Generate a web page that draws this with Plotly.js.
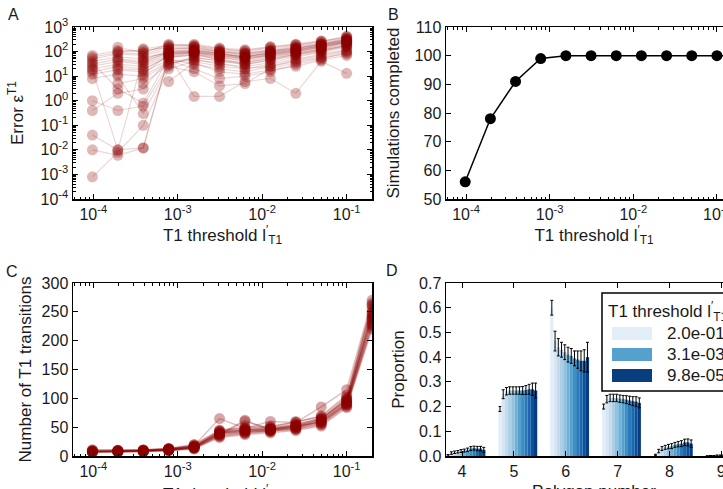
<!DOCTYPE html>
<html>
<head>
<meta charset="utf-8">
<script src="https://cdn.plot.ly/plotly-3.0.1.min.js"></script>
<style>
  html, body { margin: 0; padding: 0; overflow: hidden; background: #fff; }
  #fig { width: 760px; height: 515px; }
</style>
</head>
<body>
<div id="fig"></div>
<script>
// T1 threshold values, ascending (panels A, B, C)
const thresholds = [9.765625e-5, 1.953125e-4, 3.90625e-4, 7.8125e-4, 1.5625e-3, 3.125e-3,
                    6.25e-3, 1.25e-2, 2.5e-2, 5e-2, 0.1, 0.2];

// Panel A: error per simulation run (null = run did not complete)
const errorByRun = [
  [25, 40, 30, 80, 90, 60, 50, 70, 100, 150, 250],
  [40, 60, 50, 100, 120, 80, 60, 90, 120, 180, 300],
  [15, 25, 20, 60, 70, 50, 35, 50, 80, 120, 200],
  [60, 90, 80, 150, 160, 110, 90, 120, 160, 220, 350],
  [8, 12, 10, 40, 50, 30, 25, 35, 60, 90, 150],
  [1, 0.4, 0.6, 30, 60, 40, 30, 45, 70, 100, 180],
  [0.04, 0.01, 0.012, 60, 80, 60, 40, 60, 90, 130, 220],
  [0.01, 0.006, 0.012, 70, 100, 70, 50, 70, 100, 140, 240],
  [0.0008, 0.008, 0.1, 20, 40, 25, 20, 30, 50, 80, 120],
  [0.4, 2, 3, 50, 30, 20, 15, 25, 40, 60, 100],
  [20, 30, 25, 70, 1.5, 1.5, 6, 8, 2, 40, 13],
  [30, 50, 40, 90, 110, 90, 70, 100, 130, 200, 320],
  [50, 80, 70, 120, 140, 100, 80, 110, 150, 210, 280],
  [12, 18, 15, 45, 20, 8, 10, 15, 30, 50, 90],
  [35, 3, 0.8, 55, 75, 55, 45, 65, 85, 120, 170],
  [70, 110, 100, 170, 180, 130, 100, 140, 180, 250, 400],
  [18, 0.01, 60, 85, 95, 65, 55, 80, 110, 160, 260],
  [null, 20, 18, 65, 85, 45, 30, 45, 75, 110, 190],
  [null, 45, 35, 95, 100, 75, 65, 85, 110, 170, 270],
  [null, 100, 120, 140, 130, 95, 75, 100, 140, 190, 300],
  [null, 5, 8, 35, 45, 35, 20, 25, 45, 70, 110],
  [null, 150, 90, 200, 170, 120, 110, 150, 190, 260, 380],
  [null, 10, 0.3, 25, 15, 4, 5, 20, 35, 55, 80],
  [null, null, 45, 110, 120, 85, 60, 95, 125, 175, 260],
  [null, null, 12, 75, 90, 70, 55, 75, 100, 150, 230],
  [null, null, 130, 180, 200, 140, 120, 160, 200, 270, 420],
  [null, null, 5, 30, 55, 45, 35, 55, 75, 110, 160],
  [null, null, null, 90, 105, 80, 60, 85, 115, 165, 250],
  [null, null, null, 130, 150, 100, 85, 110, 140, 200, 330],
  [null, null, null, 6, 35, 15, 12, 18, 25, 45, 70]
];

// Panel B: simulations completed (out of 100)
const completed = [56, 78, 91, 99, 100, 100, 100, 100, 100, 100, 100, 100];

// Panel C: number of T1 transitions per run
const transitionsByRun = [
  [8, 8, 9, 11, 15, 38, 42, 45, 50, 60, 92, 240],
  [7, 8, 8, 10, 14, 35, 40, 43, 47, 56, 88, 230],
  [9, 9, 10, 12, 17, 42, 46, 48, 54, 65, 98, 255],
  [6, 7, 7, 9, 12, 32, 37, 40, 44, 52, 84, 220],
  [10, 10, 11, 13, 19, 45, 50, 52, 58, 70, 105, 265],
  [8, 9, 9, 11, 16, 40, 44, 46, 51, 62, 95, 245],
  [7, 7, 8, 10, 13, 36, 60, 47, 52, 58, 90, 235],
  [9, 8, 9, 12, 18, 65, 48, 60, 58, 85, 115, 270],
  [8, 8, 8, 11, 15, 39, 43, 44, 49, 61, 93, 250],
  [null, 9, 10, 12, 16, 41, 45, 47, 53, 64, 100, 260],
  [null, 7, 8, 10, 14, 37, 41, 44, 48, 57, 89, 228],
  [null, null, 9, 11, 16, 43, 47, 49, 55, 66, 97, 248],
  [11, 10, 10, 13, 20, 44, 49, 50, 60, 68, 102, 262],
  [7, 8, 8, 10, 14, 34, 39, 42, 46, 54, 86, 225],
  [null, null, null, 12, 17, 40, 45, 46, 52, 63, 96, 242],
  [8, 9, 9, 11, 15, 38, 62, 45, 50, 59, 91, 238]
];

// Panel D: polygon-number distribution, thresholds ordered 2.0e-01 -> 9.8e-05
const thresholdLabels = ['2.0e-01', '1.0e-01', '5.0e-02', '2.5e-02', '1.2e-02', '6.2e-03',
                         '3.1e-03', '1.6e-03', '7.8e-04', '3.9e-04', '2.0e-04', '9.8e-05'];
const polygonNumbers = [4, 5, 6, 7, 8, 9];
const poly4 = [0.003, 0.012, 0.015, 0.017, 0.02, 0.022, 0.025, 0.03, 0.032, 0.03, 0.03, 0.025];
const poly5 = [0.19, 0.25, 0.262, 0.265, 0.265, 0.265, 0.265, 0.265, 0.267, 0.27, 0.27, 0.265];
const poly6 = [0.60, 0.465, 0.44, 0.43, 0.42, 0.41, 0.405, 0.395, 0.39, 0.385, 0.385, 0.40];
const poly7 = [0.20, 0.23, 0.235, 0.235, 0.235, 0.232, 0.23, 0.228, 0.225, 0.222, 0.22, 0.215];
const poly8 = [0.004, 0.02, 0.03, 0.035, 0.038, 0.04, 0.045, 0.048, 0.05, 0.055, 0.055, 0.05];
const poly9 = [0.0, 0.001, 0.001, 0.002, 0.002, 0.002, 0.002, 0.003, 0.003, 0.003, 0.004, 0.004];
const err4 = [0.003, 0.005, 0.005, 0.005, 0.006, 0.006, 0.007, 0.008, 0.008, 0.009, 0.009, 0.01];
const err5 = [0.01, 0.018, 0.015, 0.015, 0.015, 0.015, 0.015, 0.016, 0.018, 0.02, 0.025, 0.03];
const err6 = [0.03, 0.04, 0.035, 0.03, 0.03, 0.03, 0.03, 0.03, 0.035, 0.04, 0.045, 0.06];
const err7 = [0.01, 0.015, 0.015, 0.015, 0.015, 0.015, 0.015, 0.016, 0.017, 0.018, 0.02, 0.02];
const err8 = [0.003, 0.007, 0.008, 0.008, 0.009, 0.01, 0.01, 0.011, 0.012, 0.013, 0.014, 0.015];
const err9 = [0.001, 0.001, 0.001, 0.002, 0.002, 0.002, 0.002, 0.002, 0.002, 0.002, 0.003, 0.003];

// Tick labels
const decadeX = [1e-4, 1e-3, 1e-2, 1e-1];
const decadeXText = ['10<sup>-4</sup>', '10<sup>-3</sup>', '10<sup>-2</sup>', '10<sup>-1</sup>'];
const decadeY = [1e-4, 1e-3, 1e-2, 1e-1, 1, 10, 100, 1000];
const decadeYText = ['10<sup>-4</sup>', '10<sup>-3</sup>', '10<sup>-2</sup>', '10<sup>-1</sup>',
                     '10<sup>0</sup>', '10<sup>1</sup>', '10<sup>2</sup>', '10<sup>3</sup>'];

// ---- styling ----
const W = 760, H = 515;
const FONT = 'Liberation Sans, Arial, Helvetica, sans-serif';
const TXT = '#1a1a1a';
const TICK_SIZE = 16, TITLE_SIZE = 17;
const RED_LINE_A = 'rgba(139,0,0,0.16)';
const RED_MARK_A = 'rgba(139,0,0,0.28)';
const RED_LINE_C = 'rgba(139,0,0,0.25)';
const RED_MARK_C = 'rgba(139,0,0,0.35)';
const blues = ['#e3eef8', '#d6e6f4', '#c5daee', '#abd0e6', '#91c3de', '#6fb0d7',
               '#56a0ce', '#3e8ec4', '#2a7ab9', '#1b66ac', '#09529d', '#083d7f'];

const px = v => v / W;
const py = v => 1 - v / H;

function logMinor(d0, d1) {
  const v = [];
  for (let d = d0; d <= d1; d++) for (let m = 2; m <= 9; m++) v.push(m * Math.pow(10, d));
  return v;
}

const axisBase = {
  showline: true, linecolor: '#000', linewidth: 1.5, mirror: 'ticks',
  ticks: 'inside', ticklen: 5, tickwidth: 1, tickcolor: '#000',
  showgrid: false, zeroline: false,
  tickfont: { family: FONT, size: TICK_SIZE, color: TXT }
};
const titleFont = { family: FONT, size: TITLE_SIZE, color: TXT };
const thresholdTitle = 'T1 threshold l<sup>′</sup><sub>T1</sub>';

function logX(domain, anchor, standoff) {
  return Object.assign({}, axisBase, {
    type: 'log', range: [-4.24, -0.70], domain: domain, anchor: anchor,
    tickmode: 'array', tickvals: decadeX, ticktext: decadeXText,
    minor: { tickmode: 'array', tickvals: logMinor(-5, 0), ticks: 'inside', ticklen: 2.5,
             tickwidth: 1, tickcolor: '#000', showgrid: false },
    title: { text: thresholdTitle, font: titleFont, standoff: standoff }
  });
}

const domLeft = [px(73), px(372)];
const domRight = [px(446), px(742)];
const domTop = [py(199), py(27)];
const domBottom = [py(456), py(283)];

const traces = [];

// Panel A
errorByRun.forEach(run => {
  traces.push({
    type: 'scatter', mode: 'lines+markers', xaxis: 'x', yaxis: 'y',
    x: thresholds.slice(0, run.length), y: run,
    line: { color: RED_LINE_A, width: 1.2 },
    marker: { color: RED_MARK_A, size: 11, line: { width: 0 } },
    showlegend: false, hoverinfo: 'skip'
  });
});

// Panel B
traces.push({
  type: 'scatter', mode: 'lines+markers', xaxis: 'x2', yaxis: 'y2',
  x: thresholds, y: completed,
  line: { color: '#000', width: 1.5 },
  marker: { color: '#000', size: 11 },
  showlegend: false, hoverinfo: 'skip'
});

// Panel C
transitionsByRun.forEach(run => {
  traces.push({
    type: 'scatter', mode: 'lines+markers', xaxis: 'x3', yaxis: 'y3',
    x: thresholds, y: run,
    line: { color: RED_LINE_C, width: 1.5 },
    marker: { color: RED_MARK_C, size: 11, line: { width: 0 } },
    showlegend: false, hoverinfo: 'skip'
  });
});

// Panel D: one bar series per threshold
const props = [poly4, poly5, poly6, poly7, poly8, poly9];
const errs = [err4, err5, err6, err7, err8, err9];
const barW = 0.0625;
thresholdLabels.forEach((lab, k) => {
  traces.push({
    type: 'bar', xaxis: 'x4', yaxis: 'y4', name: lab,
    x: polygonNumbers, y: props.map(p => p[k]),
    offset: -0.3 + k * barW, width: barW,
    marker: { color: blues[k], line: { width: 0 } },
    error_y: { type: 'data', array: errs.map(e => e[k]), color: '#000', thickness: 1, width: 1.5 },
    showlegend: false, hoverinfo: 'skip'
  });
});

// Legend for panel D (first, middle and last threshold)
const legendIdx = [0, 6, 11];
const legendRows = [333.5, 354.5, 375.5];
const shapes = [{
  type: 'rect', xref: 'paper', yref: 'paper',
  x0: px(602), x1: px(800), y0: py(391), y1: py(293),
  line: { color: '#000', width: 1.5 }, fillcolor: '#fff', layer: 'above'
}];
const annotations = [];
legendIdx.forEach((k, i) => {
  shapes.push({
    type: 'rect', xref: 'paper', yref: 'paper',
    x0: px(612), x1: px(652), y0: py(legendRows[i] + 6.5), y1: py(legendRows[i] - 6.5),
    line: { width: 0 }, fillcolor: blues[k], layer: 'above'
  });
  annotations.push({
    xref: 'paper', yref: 'paper', x: px(665), y: py(legendRows[i]),
    xanchor: 'left', yanchor: 'middle', showarrow: false,
    text: thresholdLabels[k], font: { family: FONT, size: TITLE_SIZE, color: TXT }
  });
});
annotations.push({
  xref: 'paper', yref: 'paper', x: px(606), y: py(311),
  xanchor: 'left', yanchor: 'middle', showarrow: false,
  text: thresholdTitle, font: { family: FONT, size: TITLE_SIZE, color: TXT }
});

// Panel letters
[['A', 14, 15], ['B', 393, 14], ['C', 12, 271], ['D', 392, 270]].forEach(([t, x, y]) => {
  annotations.push({
    xref: 'paper', yref: 'paper', x: px(x), y: py(y),
    xanchor: 'center', yanchor: 'middle', showarrow: false,
    text: t, font: { family: FONT, size: 16, color: TXT }
  });
});

const layout = {
  width: W, height: H,
  margin: { l: 0, r: 0, t: 0, b: 0 },
  paper_bgcolor: '#fff', plot_bgcolor: '#fff',
  barmode: 'overlay',
  font: { family: FONT, color: TXT },
  xaxis: logX(domLeft, 'y', 6),
  yaxis: Object.assign({}, axisBase, {
    type: 'log', range: [-4, 3], domain: domTop, anchor: 'x',
    tickmode: 'array', tickvals: decadeY, ticktext: decadeYText,
    minor: { tickmode: 'array', tickvals: logMinor(-4, 2), ticks: 'inside', ticklen: 2.5,
             tickwidth: 1, tickcolor: '#000', showgrid: false },
    title: { text: 'Error ε<sup>T1</sup>', font: titleFont, standoff: 12 }
  }),
  xaxis2: logX(domRight, 'y2', 6),
  yaxis2: Object.assign({}, axisBase, {
    range: [50, 110], dtick: 10, domain: domTop, anchor: 'x2',
    title: { text: 'Simulations completed', font: titleFont, standoff: 10 }
  }),
  xaxis3: logX(domLeft, 'y3', 9),
  yaxis3: Object.assign({}, axisBase, {
    range: [0, 300], dtick: 50, domain: domBottom, anchor: 'x3',
    title: { text: 'Number of T1 transitions', font: titleFont, standoff: 5 }
  }),
  xaxis4: Object.assign({}, axisBase, {
    range: [3.69, 9.40], domain: domRight, anchor: 'y4',
    tickmode: 'array', tickvals: polygonNumbers,
    title: { text: 'Polygon number', font: titleFont, standoff: 6 }
  }),
  yaxis4: Object.assign({}, axisBase, {
    range: [0, 0.7], dtick: 0.1, tickformat: '.1f', domain: domBottom, anchor: 'x4',
    title: { text: 'Proportion', font: titleFont, standoff: 10 }
  }),
  shapes: shapes,
  annotations: annotations
};

Plotly.newPlot('fig', traces, layout, { staticPlot: true, displayModeBar: false });
</script>
</body>
</html>
